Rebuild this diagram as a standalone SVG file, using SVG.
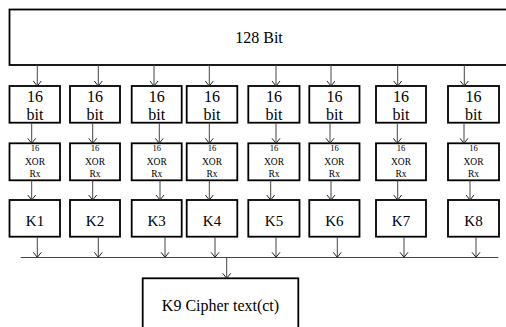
<svg xmlns="http://www.w3.org/2000/svg" width="506" height="327" viewBox="0 0 506 327" font-family="'Liberation Serif', 'Times New Roman', serif">
<style>
.box{fill:#fff;stroke:#000;stroke-width:1.8}
text{font-family:'Liberation Serif','Times New Roman',serif;fill:#000;text-anchor:middle}
.big{font-size:16px}
.k{font-size:15px}
.s8{font-size:8.5px}
.s9{font-size:9.5px}
.c{stroke:#444;stroke-width:1;fill:none}
.a{stroke:#444;stroke-width:1;fill:none;marker-end:url(#ah)}
</style>
<defs>
<marker id="ah" viewBox="0 0 5 8" refX="5" refY="4" markerWidth="5" markerHeight="8" markerUnits="userSpaceOnUse" orient="auto" overflow="visible">
<path d="M0,0 L5,4 L0,8" fill="none" stroke="#222" stroke-width="1"/>
</marker>
</defs>
<rect width="506" height="327" fill="#fff"/>
<g id="top"><rect class="box" x="9.5" y="9.5" width="520" height="55.5"/><text class="big" x="259" y="43">128 Bit</text></g>
<g id="b1"><rect class="box" x="9.5" y="86" width="50.5" height="36.7"/><text class="big" x="35" y="101.5">16</text><text class="big" x="35" y="119.5">bit</text></g>
<g id="b2"><rect class="box" x="70" y="86" width="50" height="36.7"/><text class="big" x="95" y="101.5">16</text><text class="big" x="95" y="119.5">bit</text></g>
<g id="b3"><rect class="box" x="131.7" y="86" width="50" height="36.7"/><text class="big" x="156.7" y="101.5">16</text><text class="big" x="156.7" y="119.5">bit</text></g>
<g id="b4"><rect class="box" x="186.7" y="86" width="50.6" height="36.7"/><text class="big" x="212" y="101.5">16</text><text class="big" x="212" y="119.5">bit</text></g>
<g id="b5"><rect class="box" x="248.3" y="86" width="51.2" height="36.7"/><text class="big" x="274" y="101.5">16</text><text class="big" x="274" y="119.5">bit</text></g>
<g id="b6"><rect class="box" x="309.3" y="86" width="50.2" height="36.7"/><text class="big" x="334.4" y="101.5">16</text><text class="big" x="334.4" y="119.5">bit</text></g>
<g id="b7"><rect class="box" x="376" y="86" width="50" height="36.7"/><text class="big" x="401" y="101.5">16</text><text class="big" x="401" y="119.5">bit</text></g>
<g id="b8"><rect class="box" x="448" y="86" width="51" height="36.7"/><text class="big" x="473.5" y="101.5">16</text><text class="big" x="473.5" y="119.5">bit</text></g>
<g id="x1"><rect class="box" x="9.5" y="143.3" width="50.5" height="37"/><text class="s8" x="35" y="151">16</text><text class="s9" x="35" y="165">XOR</text><text class="s9" x="35" y="176.5">Rx</text></g>
<g id="x2"><rect class="box" x="70" y="143.3" width="50" height="37"/><text class="s8" x="95" y="151">16</text><text class="s9" x="95" y="165">XOR</text><text class="s9" x="95" y="176.5">Rx</text></g>
<g id="x3"><rect class="box" x="131.7" y="143.3" width="50" height="37"/><text class="s8" x="156.7" y="151">16</text><text class="s9" x="156.7" y="165">XOR</text><text class="s9" x="156.7" y="176.5">Rx</text></g>
<g id="x4"><rect class="box" x="186.7" y="143.3" width="50.6" height="37"/><text class="s8" x="212" y="151">16</text><text class="s9" x="212" y="165">XOR</text><text class="s9" x="212" y="176.5">Rx</text></g>
<g id="x5"><rect class="box" x="248.3" y="143.3" width="51.2" height="37"/><text class="s8" x="274" y="151">16</text><text class="s9" x="274" y="165">XOR</text><text class="s9" x="274" y="176.5">Rx</text></g>
<g id="x6"><rect class="box" x="309.3" y="143.3" width="50.2" height="37"/><text class="s8" x="334.4" y="151">16</text><text class="s9" x="334.4" y="165">XOR</text><text class="s9" x="334.4" y="176.5">Rx</text></g>
<g id="x7"><rect class="box" x="376" y="143.3" width="50" height="37"/><text class="s8" x="401" y="151">16</text><text class="s9" x="401" y="165">XOR</text><text class="s9" x="401" y="176.5">Rx</text></g>
<g id="x8"><rect class="box" x="448" y="143.3" width="51" height="37"/><text class="s8" x="473.5" y="151">16</text><text class="s9" x="473.5" y="165">XOR</text><text class="s9" x="473.5" y="176.5">Rx</text></g>
<g id="k1"><rect class="box" x="9.5" y="200" width="50.5" height="36.7"/><text class="k" x="35" y="225.5">K1</text></g>
<g id="k2"><rect class="box" x="70" y="200" width="50" height="36.7"/><text class="k" x="95" y="225.5">K2</text></g>
<g id="k3"><rect class="box" x="131.7" y="200" width="50" height="36.7"/><text class="k" x="156.7" y="225.5">K3</text></g>
<g id="k4"><rect class="box" x="186.7" y="200" width="50.6" height="36.7"/><text class="k" x="212" y="225.5">K4</text></g>
<g id="k5"><rect class="box" x="248.3" y="200" width="51.2" height="36.7"/><text class="k" x="274" y="225.5">K5</text></g>
<g id="k6"><rect class="box" x="309.3" y="200" width="50.2" height="36.7"/><text class="k" x="334.4" y="225.5">K6</text></g>
<g id="k7"><rect class="box" x="376" y="200" width="50" height="36.7"/><text class="k" x="401" y="225.5">K7</text></g>
<g id="k8"><rect class="box" x="448" y="200" width="51" height="36.7"/><text class="k" x="473.5" y="225.5">K8</text></g>
<g id="k9"><rect class="box" x="142.7" y="278.3" width="155.6" height="70"/><text class="big" x="220.5" y="310.5">K9 Cipher text(ct)</text></g>
<g id="connectors">
<line class="a" x1="37.3" y1="65" x2="37.3" y2="86"/>
<line class="a" x1="98.3" y1="65" x2="98.3" y2="86"/>
<line class="a" x1="154" y1="65" x2="154" y2="86"/>
<line class="a" x1="209.3" y1="65" x2="209.3" y2="86"/>
<line class="a" x1="276" y1="65" x2="276" y2="86"/>
<line class="a" x1="331" y1="65" x2="331" y2="86"/>
<line class="a" x1="397.7" y1="65" x2="397.7" y2="86"/>
<line class="a" x1="464.3" y1="65" x2="464.3" y2="86"/>
<line class="a" x1="31.7" y1="122.7" x2="31.7" y2="143.3"/>
<line class="a" x1="92.7" y1="122.7" x2="92.7" y2="143.3"/>
<line class="a" x1="159.3" y1="122.7" x2="159.3" y2="143.3"/>
<line class="a" x1="209.3" y1="122.7" x2="209.3" y2="143.3"/>
<line class="a" x1="276" y1="122.7" x2="276" y2="143.3"/>
<line class="a" x1="330" y1="122.7" x2="330" y2="143.3"/>
<line class="a" x1="397.3" y1="122.7" x2="397.3" y2="143.3"/>
<line class="a" x1="464" y1="122.7" x2="464" y2="143.3"/>
<line class="a" x1="31.7" y1="180.3" x2="31.7" y2="200"/>
<line class="a" x1="92.7" y1="180.3" x2="92.7" y2="200"/>
<line class="a" x1="160" y1="180.3" x2="160" y2="200"/>
<line class="a" x1="209.3" y1="180.3" x2="209.3" y2="200"/>
<line class="a" x1="270.7" y1="180.3" x2="270.7" y2="200"/>
<line class="a" x1="331" y1="180.3" x2="331" y2="200"/>
<line class="a" x1="397.7" y1="180.3" x2="397.7" y2="200"/>
<line class="a" x1="470" y1="180.3" x2="470" y2="200"/>
<line class="a" x1="37.3" y1="236.7" x2="37.3" y2="257.3"/>
<line class="a" x1="98.3" y1="236.7" x2="98.3" y2="257.3"/>
<line class="a" x1="165" y1="236.7" x2="165" y2="257.3"/>
<line class="a" x1="215" y1="236.7" x2="215" y2="257.3"/>
<line class="a" x1="276" y1="236.7" x2="276" y2="257.3"/>
<line class="a" x1="337.3" y1="236.7" x2="337.3" y2="257.3"/>
<line class="a" x1="404" y1="236.7" x2="404" y2="257.3"/>
<line class="a" x1="476" y1="236.7" x2="476" y2="257.3"/>
<line class="c" x1="20.7" y1="257.5" x2="498.3" y2="257.5"/>
<line class="a" x1="226.7" y1="257.5" x2="226.7" y2="278.3"/>
</g>
</svg>
